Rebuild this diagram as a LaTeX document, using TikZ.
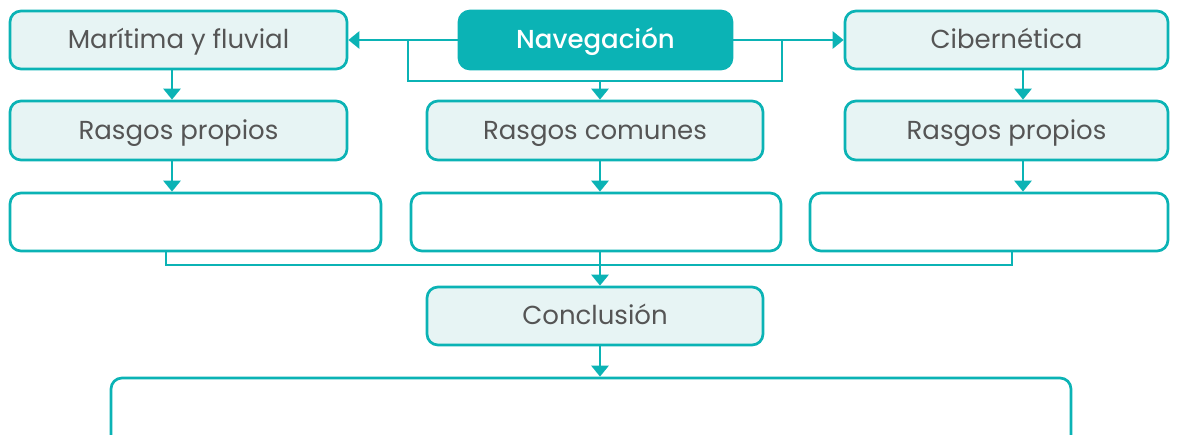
\documentclass[tikz,border=0pt]{standalone}
\usepackage{fontspec}
\setmainfont{Poppins}
\newfontfamily\navfont{Poppins Medium}
\usetikzlibrary{arrows.meta,calc}
\definecolor{teal1}{HTML}{0BB3B5}
\definecolor{lightfill}{HTML}{E7F4F4}
\definecolor{txt}{HTML}{555555}
\begin{document}
\begin{tikzpicture}[x=1pt,y=-1pt,
  box/.style={draw=teal1,line width=2.7pt,rounded corners=11pt,fill=lightfill,text=txt,font=\fontsize{26}{30}\selectfont,inner sep=0pt,text height=18pt,text depth=0pt},
  emptybox/.style={draw=teal1,line width=2.7pt,rounded corners=11pt,fill=white,inner sep=0pt},
  mainbox/.style={draw=teal1,line width=2.7pt,rounded corners=11pt,fill=teal1,text=white,font=\navfont\fontsize{26}{30}\selectfont,inner sep=0pt,text height=18pt,text depth=0pt},
  conn/.style={draw=teal1,line width=2.7pt},
  arr/.style={conn,-{Triangle[width=17pt,length=11pt]}}]
\useasboundingbox (0,0) rectangle (1177,435);
\begin{scope}
\clip (0,0) rectangle (1177,435);
\node[box,minimum width=337pt,minimum height=58pt] (mar) at (178.5,40) {Marítima y fluvial};
\node[mainbox,minimum width=273pt,minimum height=58pt] (nav) at (595.5,40) {Navegación};
\node[box,minimum width=323pt,minimum height=58pt] (cib) at (1006.5,40) {Cibernética};
\node[box,minimum width=337pt,minimum height=59pt] (rp1) at (178.5,130.5) {Rasgos propios};
\node[box,minimum width=336pt,minimum height=59pt] (rc) at (595,130.5) {Rasgos comunes};
\node[box,minimum width=323pt,minimum height=59pt] (rp2) at (1006.5,130.5) {Rasgos propios};
\node[emptybox,minimum width=371pt,minimum height=58pt] (e1) at (195.5,222) {};
\node[emptybox,minimum width=370pt,minimum height=58pt] (e2) at (596,222) {};
\node[emptybox,minimum width=358pt,minimum height=58pt] (e3) at (989,222) {};
\node[box,minimum width=336pt,minimum height=58pt] (con) at (595,316) {Conclusión};
\node[emptybox,minimum width=960pt,minimum height=110pt] (fin) at (591,433) {};
\end{scope}
\coordinate (xa) at (172,0);
\coordinate (xm) at (600,0);
\coordinate (xc) at (1023,0);
\coordinate (bl) at (408,81);
\coordinate (br) at (782,81);
\coordinate (ll) at (166,265);
\coordinate (lr) at (1012,265);
% top connectors
\draw[arr] (nav.west) -- (mar.east);
\draw[arr] (nav.east) -- (cib.west);
\draw[conn] (bl |- nav.west) -- (bl) -- (br) -- (br |- nav.east);
\draw[arr] (bl -| xm) -- (rc.north -| xm);
\draw[arr] (mar.south -| xa) -- (rp1.north -| xa);
\draw[arr] (cib.south -| xc) -- (rp2.north -| xc);
% second row
\draw[arr] (rp1.south -| xa) -- (e1.north -| xa);
\draw[arr] (rc.south -| xm) -- (e2.north -| xm);
\draw[arr] (rp2.south -| xc) -- (e3.north -| xc);
% lower bracket
\draw[conn] (e1.south -| ll) -- (ll) -- (lr) -- (e3.south -| lr);
\draw[arr] (e2.south -| xm) -- (con.north -| xm);
\draw[arr] (con.south -| xm) -- (fin.north -| xm);
\end{tikzpicture}
\end{document}
